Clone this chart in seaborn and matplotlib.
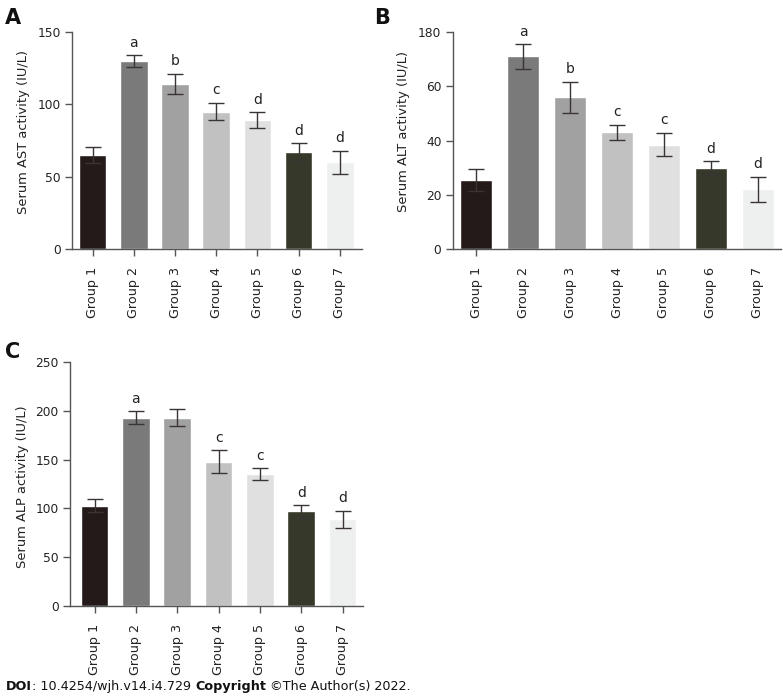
import matplotlib
matplotlib.use('Agg')
import matplotlib.pyplot as plt
import seaborn as sns

groups = ['Group 1', 'Group 2', 'Group 3', 'Group 4', 'Group 5', 'Group 6', 'Group 7']
bar_colors = ['#231a19', '#7a7a7a', '#a0a1a0', '#c0c1c0', '#dfe0df', '#363829', '#eef0ef']

# Panel A - AST
ast_mean = [65, 130, 114, 95, 89, 67, 60]
ast_sd = [5.3, 4.0, 7.0, 6.0, 5.5, 6.0, 8.0]
ast_letters = ['', 'a', 'b', 'c', 'd', 'd', 'd']

# Panel B - ALT (top tick is labelled "180" in the original)
alt_mean = [25.5, 71, 56, 43, 38.5, 30, 22]
alt_sd = [4.0, 4.5, 5.7, 2.9, 4.3, 2.3, 4.6]
alt_letters = ['', 'a', 'b', 'c', 'c', 'd', 'd']
alt_ticks = [0, 20, 40, 60, 80]
alt_ticklabels = ['0', '20', '40', '60', '180']

# Panel C - ALP
alp_mean = [103, 193, 193, 148, 135, 97, 89]
alp_sd = [6.5, 6.3, 8.5, 11.7, 6.3, 6.4, 8.7]
alp_letters = ['', 'a', '', 'c', 'c', 'd', 'd']

sns.set_style('white')
plt.rcParams['font.family'] = ['DejaVu Sans']

fig = plt.figure(figsize=(7.83, 6.96), dpi=100)


def draw_panel(ax, means, sds, letters, ylabel, ylim, yticks, xlim, label_xy, ticklabels=None):
    sns.barplot(x=groups, y=means, hue=groups, palette=bar_colors, legend=False,
                width=0.67, saturation=1, ax=ax, errorbar=None)
    ax.errorbar(range(len(groups)), means, yerr=sds, fmt='none', ecolor='#3a3434',
                elinewidth=1.0, capsize=5.8, capthick=1.0, zorder=5)
    for i, (m, s, lab) in enumerate(zip(means, sds, letters)):
        if lab:
            ax.annotate(lab, (i, m + s), xytext=(0, 4), textcoords='offset points',
                        ha='center', va='bottom', fontsize=10, color='#222222')
    ax.set_ylim(*ylim)
    ax.set_yticks(yticks)
    if ticklabels is not None:
        ax.set_yticklabels(ticklabels)
    ax.set_xlim(*xlim)
    ax.set_ylabel(ylabel, fontsize=9.4, color='#222222')
    ax.yaxis.set_label_coords(*label_xy)
    ax.set_xlabel('')
    ax.tick_params(axis='x', labelrotation=90, labelsize=9.2, length=5, width=1,
                   color='#555555', direction='out', bottom=True, pad=8, labelcolor='#222222')
    ax.tick_params(axis='y', labelsize=8.8, length=5, width=1, color='#555555',
                   direction='out', left=True, pad=3, labelcolor='#222222')
    sns.despine(ax=ax)
    for sp in ['left', 'bottom']:
        ax.spines[sp].set_color('#555555')
        ax.spines[sp].set_linewidth(1.0)


axA = fig.add_axes([0.092, 0.642, 0.370, 0.312])
draw_panel(axA, ast_mean, ast_sd, ast_letters, 'Serum AST activity (IU/L)',
           (0, 150), [0, 50, 100, 150], (-0.5, 6.53), (-0.145, 0.541))

axB = fig.add_axes([0.578, 0.642, 0.420, 0.312])
draw_panel(axB, alt_mean, alt_sd, alt_letters, 'Serum ALT activity (IU/L)',
           (0, 80), alt_ticks, (-0.5, 6.5), (-0.128, 0.541), alt_ticklabels)
for i, t in enumerate(axB.xaxis.get_major_ticks()):
    if i > 0:
        t.tick1line.set_visible(False)

axC = fig.add_axes([0.089, 0.129, 0.375, 0.351])
draw_panel(axC, alp_mean, alp_sd, alp_letters, 'Serum ALP activity (IU/L)',
           (0, 250), [0, 50, 100, 150, 200, 250], (-0.6, 6.5), (-0.137, 0.49))

for lab, x, y in [('A', 0.006, 0.988), ('B', 0.478, 0.988), ('C', 0.006, 0.508)]:
    fig.text(x, y, lab, fontsize=15, fontweight='bold', ha='left', va='top', color='#111111')

# footer line, pieces chained left to right
parts = [('DOI', 'bold'), (': 10.4254/wjh.v14.i4.729 ', 'normal'),
         ('Copyright', 'bold'), (' \u00a9The Author(s) 2022.', 'normal')]
prev = fig.text(0.008, 0.008, parts[0][0], fontsize=9.2, fontweight=parts[0][1],
                ha='left', va='baseline', color='#111111')
for txt, wt in parts[1:]:
    prev = axC.annotate(txt, xy=(1, 0), xycoords=prev, ha='left', va='bottom',
                        fontsize=9.2, fontweight=wt, color='#111111', annotation_clip=False)

fig.savefig('out.png', dpi=100)
